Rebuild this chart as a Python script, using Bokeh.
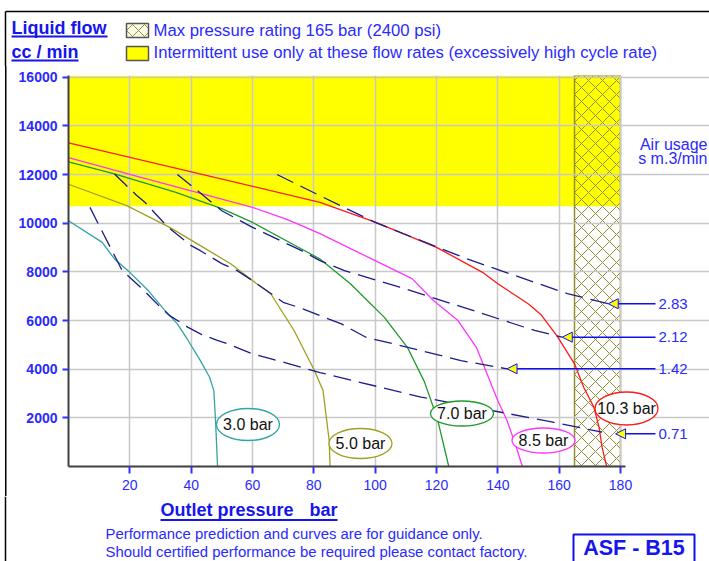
from bokeh.plotting import figure
from bokeh.layouts import column
from bokeh.models import (FixedTicker, Label, Arrow, NormalHead, Range1d, ColumnDataSource)
from bokeh.core.properties import value
from bokeh.embed import file_html
from bokeh.resources import INLINE

# ---------------- data ----------------
x_ticks = [20, 40, 60, 80, 100, 120, 140, 160, 180]
y_ticks = [2000, 4000, 6000, 8000, 10000, 12000, 14000, 16000]
x_axis_max = 180
y_axis_max = 16070
max_pressure = 165          # bar
intermittent_flow = 10700   # cc/min

curve_labels = ["3.0 bar", "5.0 bar", "7.0 bar", "8.5 bar", "10.3 bar"]
p30_x = [0, 11, 15, 20, 26, 31, 35.5, 39, 43, 46, 47.4, 48, 48.6]
p30_y = [10100, 9210, 8530, 7980, 7230, 6480, 5860, 5180, 4350, 3670, 3120, 1750, 0]
p50_x = [0, 19, 33, 43, 53, 60, 66, 73.5, 80, 83, 85, 85.3]
p50_y = [11600, 10720, 9830, 9080, 8320, 7640, 7090, 5600, 4000, 3120, 1070, 0]
p70_x = [0, 15, 35, 50, 60, 76, 82, 92, 103, 110.5, 116, 120.3, 124]
p70_y = [12520, 12030, 11270, 10600, 10030, 8940, 8530, 7500, 6130, 4900, 3500, 1960, 0]
p85_x = [0, 20, 40, 60, 71, 76, 82, 100, 112, 119, 127, 133, 140, 143, 146, 148]
p85_y = [12690, 12010, 11330, 10650, 10170, 9900, 9570, 8460, 7720, 6820, 6000, 4900, 2700, 1890, 800, 0]
p103_x = [0, 82, 100, 120, 135, 140, 150, 154, 159.4, 165, 168, 171.3, 173, 174, 175.5]
p103_y = [13300, 10860, 10040, 9006, 7980, 7510, 6680, 6250, 5350, 4220, 3260, 2440, 1615, 790, 0]

air_labels = ["2.83", "2.12", "1.42", "0.71"]
a283_x = [68, 82, 100, 130, 163, 176]
a283_y = [12000, 11130, 10030, 8530, 7090, 6690]
a212_x = [35.5, 42, 50, 60, 76, 82, 90, 108, 127, 152, 161]
a212_y = [12000, 11340, 10510, 9830, 8870, 8460, 8050, 7370, 6610, 5590, 5315]
a142_x = [15, 22, 25, 31, 33, 40, 43, 50, 55, 60, 67, 70, 76, 82, 89, 97, 106, 128, 143]
a142_y = [12020, 11170, 10850, 10030, 9780, 9080, 8870, 8340, 8050, 7640, 7020, 6750, 6500,
          6200, 5860, 5310, 5040, 4350, 4015]
a071_x = [7, 10, 15, 17.5, 23.5, 30, 33, 39, 43, 48.5, 52, 60, 72, 82, 115, 141, 158, 174]
a071_y = [10650, 9900, 8670, 8050, 7370, 6540, 6200, 5720, 5450, 5180, 5040, 4630, 4220,
          3860, 2850, 2230, 1820, 1410]
arrow_tip_x = [176, 161, 143, 178.4]
arrow_y = [6690, 5315, 4015, 1343]

# ---------------- layout ----------------
W = 709
HEAD_H, MAIN_H, FOOT_H = 66, 430, 65
ML, MT, MB = 68, 9, 30
FRAME_W = W - ML
FRAME_H = MAIN_H - MT - MB
X_END = FRAME_W / 3.0667
FRAME_LEFT_PAGE = ML
FRAME_BOTTOM_PAGE = HEAD_H + MT + FRAME_H


def fx(page_x):
    return (page_x - FRAME_LEFT_PAGE) * X_END / FRAME_W


def fy(page_y):
    return (FRAME_BOTTOM_PAGE - page_y) * y_axis_max / FRAME_H


FONT = "Liberation Sans"
BLUE = "#2a2aff"
TBLUE = "#1515ee"
OLIVE = "#8f8f35"
colors = ["#33a3a3", "#a0a020", "#1f9a2a", "#ff33ff", "#ff1a1a"]
SHADOW = "inset 5px 0 0 0 white, inset 6.5px 0 0 0 black"

# ================= main chart =================
p = figure(width=W, height=MAIN_H, output_backend="svg", toolbar_location=None,
           x_range=Range1d(0, X_END), y_range=Range1d(0, y_axis_max),
           min_border_left=ML, min_border_right=0, min_border_top=MT,
           min_border_bottom=MB, outline_line_color=None, frame_align=False,
           background_fill_color="white", border_fill_alpha=0,
           styles={"box-shadow": SHADOW})

for ax in (p.xaxis[0], p.yaxis[0]):
    ax.axis_line_color = "#404040"
    ax.axis_line_width = 2
    ax.major_tick_line_color = "#3030ff"
    ax.major_tick_line_width = 2
    ax.major_tick_in = 0
    ax.minor_tick_line_color = None
    ax.major_label_text_color = BLUE
    ax.major_label_text_font = FONT
p.xaxis.ticker = FixedTicker(ticks=x_ticks)
p.yaxis.ticker = FixedTicker(ticks=y_ticks)
p.xaxis.bounds = (0, x_axis_max + 1.5)
p.xaxis.major_tick_out = 7
p.xaxis.major_label_standoff = 6
p.xaxis.major_label_text_font_size = "14px"
p.yaxis.major_tick_out = 6
p.yaxis.major_label_standoff = 5
p.yaxis.major_label_text_font_size = "14px"
p.yaxis.major_label_text_font_style = "bold"

p.xgrid.ticker = FixedTicker(ticks=x_ticks)
p.ygrid.ticker = FixedTicker(ticks=y_ticks)
p.ygrid.bounds = (0, x_axis_max)
for g in (p.xgrid[0], p.ygrid[0]):
    g.grid_line_color = "#c8c8c8"
    g.grid_line_width = 1.5

# zones
p.quad(left=0, right=x_axis_max, bottom=intermittent_flow, top=y_axis_max,
       fill_color="#ffff00", line_color=None, level="image")
p.quad(left=max_pressure, right=x_axis_max, bottom=0, top=y_axis_max,
       fill_alpha=0, hatch_pattern="diagonal_cross", hatch_color=OLIVE,
       hatch_scale=14, hatch_weight=1, line_color=OLIVE, line_width=1.5, level="image")

# pump curves
curves = [(p30_x, p30_y), (p50_x, p50_y), (p70_x, p70_y), (p85_x, p85_y), (p103_x, p103_y)]
for (cx, cy), c in zip(curves, colors):
    p.line(cx, cy, line_color=c, line_width=1.3)

# air usage lines
airs = [(a283_x, a283_y), (a212_x, a212_y), (a142_x, a142_y), (a071_x, a071_y)]
for ax_, ay_ in airs:
    p.line(ax_, ay_, line_color="#1c1c8c", line_width=1.3, line_dash="18 8")

# ellipse labels
lab_x = [fx(247.5), fx(360), fx(461.5), fx(543), fx(626)]
lab_y = [fy(424), fy(443), fy(413), fy(440), fy(408)]
lab_h = [32, 30, 25, 25, 33]
src = ColumnDataSource(dict(x=lab_x, y=lab_y, h=lab_h, t=curve_labels, c=colors))
p.ellipse(x="x", y="y", width=63, height="h", width_units="screen", height_units="screen",
          fill_color="white", line_color="c", line_width=1.3, source=src)
p.text(x="x", y="y", text="t", text_align="center", text_baseline="middle",
       text_font=value(FONT), text_font_size="16px", text_color="#111111", source=src)

# arrows to air usage values
for lbl, tx, ay in zip(air_labels, arrow_tip_x, arrow_y):
    p.add_layout(Arrow(end=NormalHead(size=10, fill_color="#ffff00", line_color="#1010ee",
                                      line_width=1),
                       x_start=fx(655), y_start=ay, x_end=tx, y_end=ay,
                       line_color="#1010ee", line_width=1.5))
    p.add_layout(Label(x=fx(658), y=ay, text=lbl, text_align="left", text_baseline="middle",
                       text_font=FONT, text_font_size="15px", text_color=BLUE))

p.add_layout(Label(x=fx(707), y=fy(144), text="Air usage", text_align="right",
                   text_baseline="middle", text_font=FONT, text_font_size="16px",
                   text_color=BLUE))
p.add_layout(Label(x=fx(707), y=fy(157.5), text="s m.3/min", text_align="right",
                   text_baseline="middle", text_font=FONT, text_font_size="16px",
                   text_color=BLUE))


def strip(h):
    f = figure(width=W, height=h, output_backend="svg", toolbar_location=None,
               x_range=Range1d(0, W), y_range=Range1d(h, 0),
               x_axis_type=None, y_axis_type=None, min_border=0,
               min_border_left=0, min_border_right=0, min_border_top=0,
               min_border_bottom=0, frame_align=False,
               outline_line_color=None, background_fill_color="white",
               border_fill_color="white")
    f.xgrid.visible = False
    f.ygrid.visible = False
    return f


def txt(f, x, y, s, size, bold=False, color=BLUE, align="left"):
    # y is the vertical centre of the capital letters
    f.add_layout(Label(x=x, y=y, text=s, text_font=FONT, text_font_size=size,
                       text_font_style="bold" if bold else "normal", text_color=color,
                       text_align=align, text_baseline="middle"))


# ================= header =================
hd = strip(HEAD_H)
hd.segment(x0=[5, 5], y0=[11, 11], x1=[W, 5], y1=[11, HEAD_H], line_color="black",
           line_width=1.5)
txt(hd, 11, 27, "Liquid flow", "18px", bold=True, color=TBLUE)
txt(hd, 11, 51, "cc / min", "18px", bold=True, color=TBLUE)
hd.segment(x0=[11, 11], y0=[36, 60], x1=[107, 78], y1=[36, 60], line_color=TBLUE,
           line_width=2)
hd.quad(left=[126], right=[148], top=[23], bottom=[37], fill_color="#fbfbe8",
        hatch_pattern="diagonal_cross", hatch_color=OLIVE, hatch_scale=12, hatch_weight=1,
        line_color="#555555", line_width=1.5)
hd.quad(left=[126], right=[148], top=[46], bottom=[60], fill_color="#ffff00",
        line_color="#555555", line_width=1.5)
txt(hd, 153, 30, "Max pressure rating 165 bar (2400 psi)", "16.7px")
txt(hd, 153, 51.7,
    "Intermittent use only at these flow rates (excessively high cycle rate)", "16.7px")

# ================= footer =================
OFF = HEAD_H + MAIN_H
ft = strip(FOOT_H)
ft.segment(x0=[5], y0=[0], x1=[5], y1=[FOOT_H], line_color="black", line_width=1.5)
txt(ft, 160, 509.5 - OFF, "Outlet pressure", "18px", bold=True, color=TBLUE)
txt(ft, 337, 509.5 - OFF, "bar", "18px", bold=True, color=TBLUE, align="right")
ft.segment(x0=[160], y0=[519.5 - OFF], x1=[337], y1=[519.5 - OFF], line_color=TBLUE,
           line_width=2)
txt(ft, 105, 533.7 - OFF, "Performance prediction and curves are for guidance only.", "14.9px")
txt(ft, 105, 551.3 - OFF,
    "Should certified performance be required please contact factory.", "14.9px")
ft.quad(left=[573], right=[694], top=[534 - OFF], bottom=[FOOT_H + 10], fill_color=None,
        line_color="#1010ee", line_width=2)
txt(ft, 633.5, 547.5 - OFF, "ASF - B15", "21.5px", bold=True, color=TBLUE, align="center")

layout = column(hd, p, ft, spacing=0)
open("out.html", "w").write(file_html(layout, INLINE))
